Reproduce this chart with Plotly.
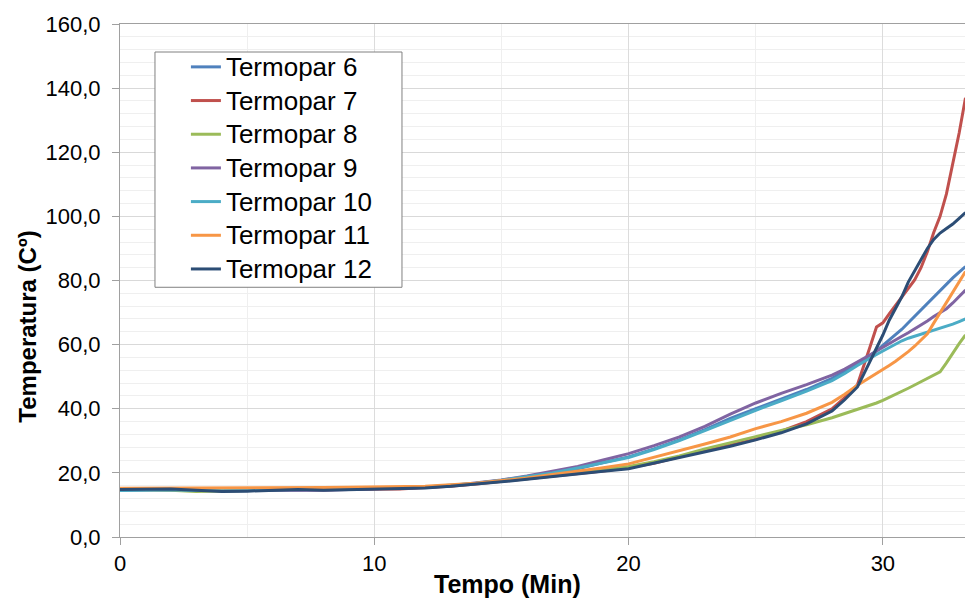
import plotly.graph_objects as go

time_min = [0, 1, 2, 3, 4, 5, 6, 7, 8, 9, 10, 11, 12, 13,
            14, 15, 16, 17, 18, 19, 20, 21, 22, 23, 24, 25, 26, 27, 28,
            28.5, 29, 29.25, 29.5, 29.75, 30, 30.25, 30.5, 30.75, 31, 31.25,
            31.5, 31.75, 32, 32.25, 32.5, 32.75, 33, 33.25]

termopar_6 = [14.6, 14.8, 14.8, 14.6, 14.4, 14.5, 14.6, 14.7, 14.8, 15.0, 15.1, 15.2, 15.5, 15.9,
              16.7, 17.6, 18.6, 19.8, 21.3, 23.2, 25.0, 27.5, 30.3, 33.5, 37.0, 40.0, 43.0, 46.0, 49.5,
              51.7, 54.0, 55.2, 56.6, 58.0, 59.8, 61.4, 63.0, 64.8, 66.8, 68.8, 70.8, 72.8, 75.0, 77.0,
              79.0, 80.8, 82.6, 84.3]
termopar_7 = [15.0, 15.1, 15.0, 14.9, 14.8, 14.9, 15.0, 14.8, 14.7, 14.9, 15.0, 15.0, 15.4, 15.8,
              16.5, 17.3, 18.1, 18.9, 19.8, 20.6, 21.7, 23.0, 25.0, 26.8, 28.5, 30.5, 33.0, 36.0, 40.0,
              43.5, 47.5, 53.2, 59.4, 65.5, 66.8, 69.6, 72.2, 74.9, 77.5, 80.2, 84.0, 89.0, 95.0, 100.0,
              107.0, 116.0, 126.0, 137.0]
termopar_8 = [14.8, 14.7, 14.6, 14.2, 14.4, 14.6, 14.7, 14.8, 15.0, 15.1, 15.2, 15.3, 15.6, 16.0,
              16.6, 17.4, 18.2, 19.2, 20.0, 21.0, 22.0, 23.5, 25.3, 27.5, 29.5, 31.3, 33.2, 35.0, 37.2,
              38.5, 39.8, 40.4, 41.1, 41.8, 42.6, 43.5, 44.4, 45.4, 46.4, 47.4, 48.4, 49.4, 50.4, 51.5,
              54.3, 57.4, 60.3, 63.0]
termopar_9 = [14.7, 14.8, 14.9, 14.8, 14.6, 14.6, 14.7, 14.5, 14.6, 14.8, 15.0, 15.2, 15.5, 16.0,
              16.8, 17.8, 19.0, 20.4, 22.0, 24.0, 26.0, 28.5, 31.2, 34.5, 38.3, 41.8, 44.8, 47.5, 50.5,
              52.4, 54.5, 55.6, 56.8, 58.0, 59.2, 60.4, 61.5, 62.6, 63.7, 64.9, 66.1, 67.4, 68.8, 70.0,
              71.2, 73.0, 75.0, 77.0]
termopar_10 = [14.5, 14.6, 14.7, 14.5, 14.5, 14.6, 14.7, 14.8, 14.9, 15.0, 15.2, 15.4, 15.6, 16.1,
               16.8, 17.7, 18.8, 20.0, 21.5, 23.2, 24.8, 27.3, 30.1, 33.2, 36.4, 39.5, 42.5, 45.5, 48.8,
               51.0, 53.5, 54.7, 55.8, 56.9, 58.0, 59.1, 60.2, 61.2, 62.0, 62.6, 63.2, 63.8, 64.4, 65.0,
               65.7, 66.4, 67.2, 68.0]
termopar_11 = [15.2, 15.2, 15.3, 15.2, 15.2, 15.3, 15.3, 15.3, 15.4, 15.5, 15.6, 15.7, 15.8, 16.3,
               16.8, 17.6, 18.4, 19.5, 20.5, 21.6, 22.8, 24.8, 27.0, 29.0, 31.2, 33.8, 36.0, 38.6, 42.0,
               44.5, 47.3, 48.5, 49.7, 50.9, 52.3, 53.5, 54.8, 56.2, 57.8, 59.5, 61.4, 63.4, 66.7, 70.0,
               73.3, 76.5, 79.8, 82.8]
termopar_12 = [14.8, 15.0, 15.0, 14.6, 14.2, 14.3, 14.6, 14.8, 14.6, 14.8, 14.9, 15.0, 15.3, 15.8,
               16.4, 17.2, 18.0, 18.9, 19.7, 20.5, 21.3, 23.0, 24.9, 26.5, 28.3, 30.3, 32.5, 35.3, 39.3,
               42.8, 46.8, 50.8, 54.7, 58.7, 63.0, 67.6, 71.5, 75.0, 79.5, 83.0, 86.5, 90.0, 92.8, 94.8,
               96.2, 97.6, 99.4, 101.2]

series_names = ["Termopar 6", "Termopar 7", "Termopar 8", "Termopar 9",
                "Termopar 10", "Termopar 11", "Termopar 12"]
series_values = [termopar_6, termopar_7, termopar_8, termopar_9,
                 termopar_10, termopar_11, termopar_12]
series_colors = ["#4F81BD", "#C0504D", "#9BBB59", "#8064A2",
                 "#4BACC6", "#F79646", "#2C4D75"]

y_ticks = [0, 20, 40, 60, 80, 100, 120, 140, 160]
x_ticks = [0, 10, 20, 30]

FONT = "Liberation Sans, Arial, sans-serif"

fig = go.Figure()
for name, vals, col in zip(series_names, series_values, series_colors):
    fig.add_trace(go.Scatter(x=time_min, y=vals, mode="lines",
                             name="<span style='font-size:26px'>" + name + "</span>",
                             line=dict(color=col, width=3)))

axis_col = "#a0a0a0"
fig.update_xaxes(range=[0, 33.23], tickvals=x_ticks, showgrid=True, gridcolor="#dcdcdc",
                 gridwidth=1, showline=True, linecolor=axis_col, linewidth=1, mirror=True,
                 ticks="outside", ticklen=7, tickcolor=axis_col, zeroline=False,
                 tickfont=dict(family=FONT, size=22, color="#000000"),
                 minor=dict(dtick=5, showgrid=True, gridcolor="#efefef", ticks=""))
fig.update_yaxes(range=[0, 160], tickvals=y_ticks, tickformat=".1f", showgrid=True,
                 gridcolor="#d9d9d9", gridwidth=1, showline=True, linecolor=axis_col,
                 linewidth=1, ticks="outside", ticklen=7, tickcolor=axis_col, zeroline=False,
                 tickfont=dict(family=FONT, size=22, color="#000000"), ticklabelstandoff=7,
                 minor=dict(dtick=4, showgrid=True, gridcolor="#efefef", ticks=""))

# legend frame (drawn as a box behind the legend entries)
legend_frame = dict(type="rect", xref="paper", yref="paper",
                    x0=0.0414, x1=0.3337, y0=0.4868, y1=0.9454,
                    line=dict(color="#808080", width=1), fillcolor="white", layer="above")

fig.update_layout(
    width=965, height=599,
    margin=dict(l=120, r=0, t=24, b=62),
    plot_bgcolor="white", paper_bgcolor="white",
    separators=",.",
    font=dict(family=FONT, color="#000000"),
    shapes=[legend_frame],
    legend=dict(x=0.078, y=0.959, xanchor="left", yanchor="top",
                bgcolor="rgba(0,0,0,0)", borderwidth=0,
                font=dict(family=FONT, size=23.6, color="#000000"),
                tracegroupgap=0),
    annotations=[
        dict(text="<b>Tempo (Min)</b>", xref="paper", yref="paper",
             x=0.459, y=-0.0907, xanchor="center", yanchor="middle", showarrow=False,
             font=dict(family=FONT, size=25, color="#000000")),
        dict(text="<b>Temperatura (Cº)</b>", xref="paper", yref="paper",
             x=-0.1089, y=0.41, xanchor="center", yanchor="middle", showarrow=False,
             textangle=-90, font=dict(family=FONT, size=24, color="#000000")),
    ],
)

fig.write_html("out.html")
